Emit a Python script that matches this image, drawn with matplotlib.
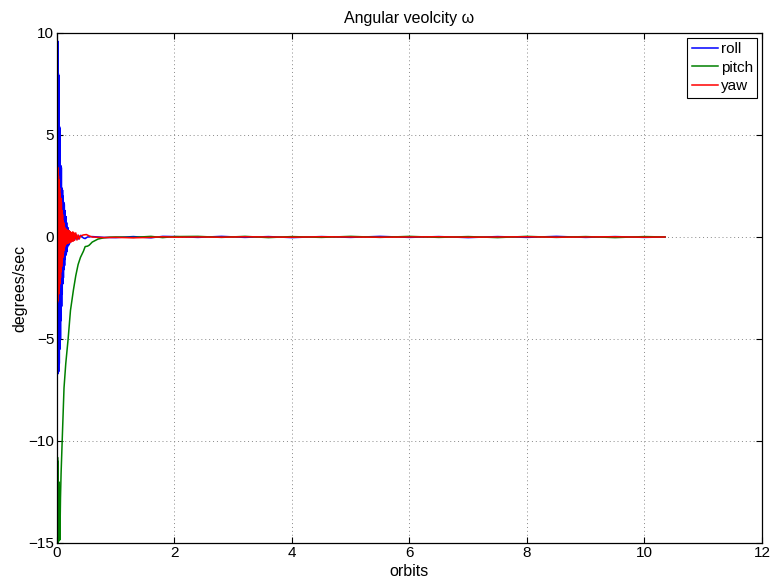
#!/usr/bin/env python3
"""Angular velocity of the spacecraft body rates (roll/pitch/yaw) over orbits."""

import matplotlib
matplotlib.use("Agg")
import matplotlib.pyplot as plt
import numpy as np

plt.rcParams["font.family"] = ["Liberation Sans", "DejaVu Sans"]

# ----------------------------
# Data (orbits, deg/s)
# ----------------------------
# early transient: dense oscillation peaks
roll_x = [0.0, 0.005, 0.01, 0.015, 0.02, 0.025, 0.03, 0.035, 0.04, 0.045,
          0.05, 0.055, 0.06, 0.065, 0.07, 0.075, 0.08, 0.085, 0.09, 0.095,
          0.1, 0.105, 0.11, 0.115, 0.12, 0.125, 0.13, 0.135, 0.14, 0.145,
          0.15, 0.155, 0.16, 0.165, 0.17, 0.175, 0.18, 0.19, 0.2, 0.21,
          0.22, 0.24, 0.26, 0.28, 0.3, 0.33, 0.36, 0.4, 0.45, 0.48,
          0.52, 0.6, 0.8]
roll_y = [0.5, 9.7, -6.6, 9.6, -6.7, 8.0, -6.6, 7.9, -6.2, 5.4,
          -5.5, 5.3, -5.0, 3.5, -4.1, 3.4, -3.4, 2.4, -2.8, 2.3,
          -2.3, 2.0, -2.0, 1.7, -1.6, 1.6, -1.4, 1.3, -1.1, 1.0,
          -0.9, 1.0, -0.8, 0.7, -0.7, 0.5, -0.5, 0.45, -0.4, 0.3,
          -0.3, 0.2, -0.2, 0.15, -0.15, 0.1, -0.1, 0.08, -0.05, -0.08,
          0.0, 0.02, -0.02]

pitch_x = [0.0, 0.005, 0.01, 0.015, 0.02, 0.025, 0.03, 0.035, 0.04, 0.045,
           0.05, 0.06, 0.07, 0.09, 0.12, 0.15, 0.19, 0.23, 0.28, 0.32,
           0.36, 0.4, 0.45, 0.48, 0.52, 0.55, 0.6, 0.7, 0.8, 0.9]
pitch_y = [-10.8, -14.9, -10.8, -15.0, -11.0, -14.9, -12.0, -14.9, -12.9, -14.5,
           -14.85, -12.8, -11.6, -9.9, -7.4, -6.2, -5.0, -3.6, -2.6, -1.9,
           -1.35, -1.0, -0.7, -0.47, -0.45, -0.4, -0.25, -0.1, -0.04, -0.01]

yaw_x = [0.0, 0.005, 0.01, 0.015, 0.02, 0.025, 0.03, 0.035, 0.04, 0.045,
         0.05, 0.055, 0.06, 0.065, 0.07, 0.075, 0.08, 0.085, 0.09, 0.095,
         0.1, 0.105, 0.11, 0.115, 0.12, 0.125, 0.13, 0.135, 0.14, 0.15,
         0.16, 0.17, 0.18, 0.19, 0.2, 0.21, 0.22, 0.23, 0.24, 0.25,
         0.26, 0.27, 0.28, 0.29, 0.3, 0.32, 0.34, 0.36, 0.38, 0.4,
         0.45, 0.5, 0.55, 0.6, 0.7, 0.8]
yaw_y = [0.0, 3.5, -3.2, 3.4, -3.1, 3.0, -2.8, 2.8, -2.5, 2.4,
         -2.3, 2.1, -2.0, 1.9, -1.7, 1.7, -1.45, 1.3, -1.2, 1.1,
         -1.0, 0.8, -0.8, 0.7, -0.65, 0.55, -0.5, 0.45, -0.4, 0.4,
         -0.35, 0.35, -0.3, 0.3, -0.3, 0.3, -0.25, 0.25, -0.25, 0.2,
         -0.2, 0.25, -0.2, 0.2, -0.15, 0.2, -0.15, 0.1, -0.1, 0.05,
         0.1, 0.12, 0.05, 0.0, -0.02, -0.03]

# steady state: small residual noise
tail_x = [1.0, 1.3, 1.6, 1.8, 2.0, 2.4, 2.8, 3.2, 3.6, 4.0, 4.5, 5.0,
          5.5, 6.0, 6.5, 7.0, 7.5, 8.0, 8.5, 9.0, 9.5, 10.0, 10.35]
roll_tail = [-0.03, 0.02, -0.04, 0.03, 0.02, -0.02, 0.03, -0.02, 0.02, -0.03, 0.02, -0.02,
             0.03, -0.02, 0.02, -0.03, 0.02, -0.02, 0.03, -0.02, 0.02, -0.02, 0.0]
pitch_tail = [0.0, -0.02, 0.03, -0.03, 0.02, 0.03, -0.02, 0.03, -0.03, 0.02, -0.02, 0.03,
              -0.02, 0.03, -0.02, 0.02, -0.03, 0.03, -0.02, 0.02, -0.03, 0.02, 0.0]
yaw_tail = [-0.02, -0.04, -0.02, 0.01, -0.01, 0.0, -0.01, 0.01, 0.0, -0.01, 0.01, 0.0,
            -0.01, 0.0, 0.01, -0.01, 0.0, 0.01, -0.01, 0.0, 0.01, -0.01, 0.0]


def main() -> None:
    fig = plt.figure(figsize=(7.75, 5.87), dpi=100)
    ax = fig.add_axes([0.0735, 0.075, 0.9097, 0.8688])

    series = [
        ("roll", roll_x, roll_y, roll_tail, "#0000ff"),
        ("pitch", pitch_x, pitch_y, pitch_tail, "#008000"),
        ("yaw", yaw_x, yaw_y, yaw_tail, "#ff0000"),
    ]
    for label, x, y, tail, color in series:
        xs = np.concatenate([x, tail_x])
        ys = np.concatenate([y, tail])
        ax.plot(xs, ys, color=color, linewidth=1.1, label=label)

    ax.set_xlim(0, 12)
    ax.set_ylim(-15, 10)
    ax.set_xticks(np.arange(0, 13, 2))
    ax.set_yticks(np.arange(-15, 11, 5))
    ax.tick_params(direction="in", length=4, width=0.8, labelsize=11,
                   top=True, right=True, pad=2)
    ax.grid(True, linestyle=(0, (1, 3)), color="#888888", linewidth=0.7)
    for spine in ax.spines.values():
        spine.set_linewidth(0.9)

    ax.set_title("Angular veolcity ω", fontsize=11.5, pad=7)
    ax.set_xlabel("orbits", fontsize=11.5, labelpad=3)
    ax.set_ylabel("degrees/sec", fontsize=11.5, labelpad=1)

    leg = ax.legend(loc="upper right", fontsize=11, handlelength=1.75,
                    handletextpad=0.15, labelspacing=0.3, borderpad=0.3,
                    borderaxespad=0.3, fancybox=False, framealpha=1)
    leg.get_frame().set_edgecolor("black")
    leg.get_frame().set_linewidth(0.8)

    fig.savefig("out.png", dpi=100)
    plt.close(fig)


if __name__ == "__main__":
    main()
